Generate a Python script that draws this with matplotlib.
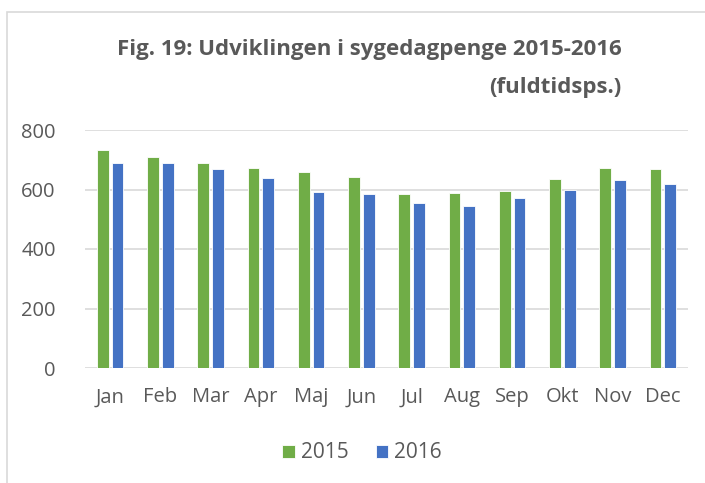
import numpy as np
import matplotlib.pyplot as plt
from matplotlib.patches import Rectangle

months = ['Jan', 'Feb', 'Mar', 'Apr', 'Maj', 'Jun', 'Jul', 'Aug', 'Sep', 'Okt', 'Nov', 'Dec']
v2015 = [733, 710, 689, 671, 660, 641, 584, 587, 596, 634, 671, 669]
v2016 = [688, 688, 670, 639, 592, 586, 553, 545, 571, 599, 631, 618]
yticks = [0, 200, 400, 600, 800]

plt.rcParams['font.family'] = ['Open Sans', 'DejaVu Sans']
txt = '#595959'

fig = plt.figure(figsize=(7.05, 4.83), dpi=100)
# outer chart frame (only top and left edges are visible in the crop)
fig.patches.append(Rectangle((7 / 705, -0.2), 1.2, 1.2 - 12 / 483, transform=fig.transFigure,
                             fill=False, edgecolor='#d9d9d9', linewidth=1.2))

ax = fig.add_axes([85 / 705, 1 - 368 / 483, (688 - 85) / 705, (368 - 130) / 483])
x = np.arange(len(months))
w = 0.235
ax.bar(x - 0.145, v2015, w, color='#70AD47', edgecolor='white', linewidth=0.6, label='2015', zorder=3)
ax.bar(x + 0.145, v2016, w, color='#4472C4', edgecolor='white', linewidth=0.6, label='2016', zorder=3)

ax.set_xlim(-0.5, len(months) - 0.5)
ax.set_ylim(0, 800)
ax.set_yticks(yticks)
ax.set_xticks(x)
ax.set_xticklabels(months)
ax.tick_params(axis='both', length=0, labelsize=14.5, colors=txt)
ax.tick_params(axis='x', pad=14)
ax.tick_params(axis='y', pad=21)
ax.grid(axis='y', color='#d9d9d9', linewidth=1.2, zorder=0)
for s in ax.spines.values():
    s.set_visible(False)

fig.text(369 / 705, 1 - 50 / 483, 'Fig. 19: Udviklingen i sygedagpenge 2015-2016',
         ha='center', va='center', fontsize=16, fontweight='bold', color=txt)
fig.text(621 / 705, 1 - 87 / 483, '(fuldtidsps.)',
         ha='right', va='center', fontsize=16, fontweight='bold', color=txt)

fig.legend(loc='center', bbox_to_anchor=(362 / 705, 1 - 453 / 483), ncol=2, frameon=False,
           fontsize=15, labelcolor=txt, handlelength=0.6, handleheight=0.6,
           handletextpad=0.3, columnspacing=1.3)

fig.savefig('out.png', dpi=100)
